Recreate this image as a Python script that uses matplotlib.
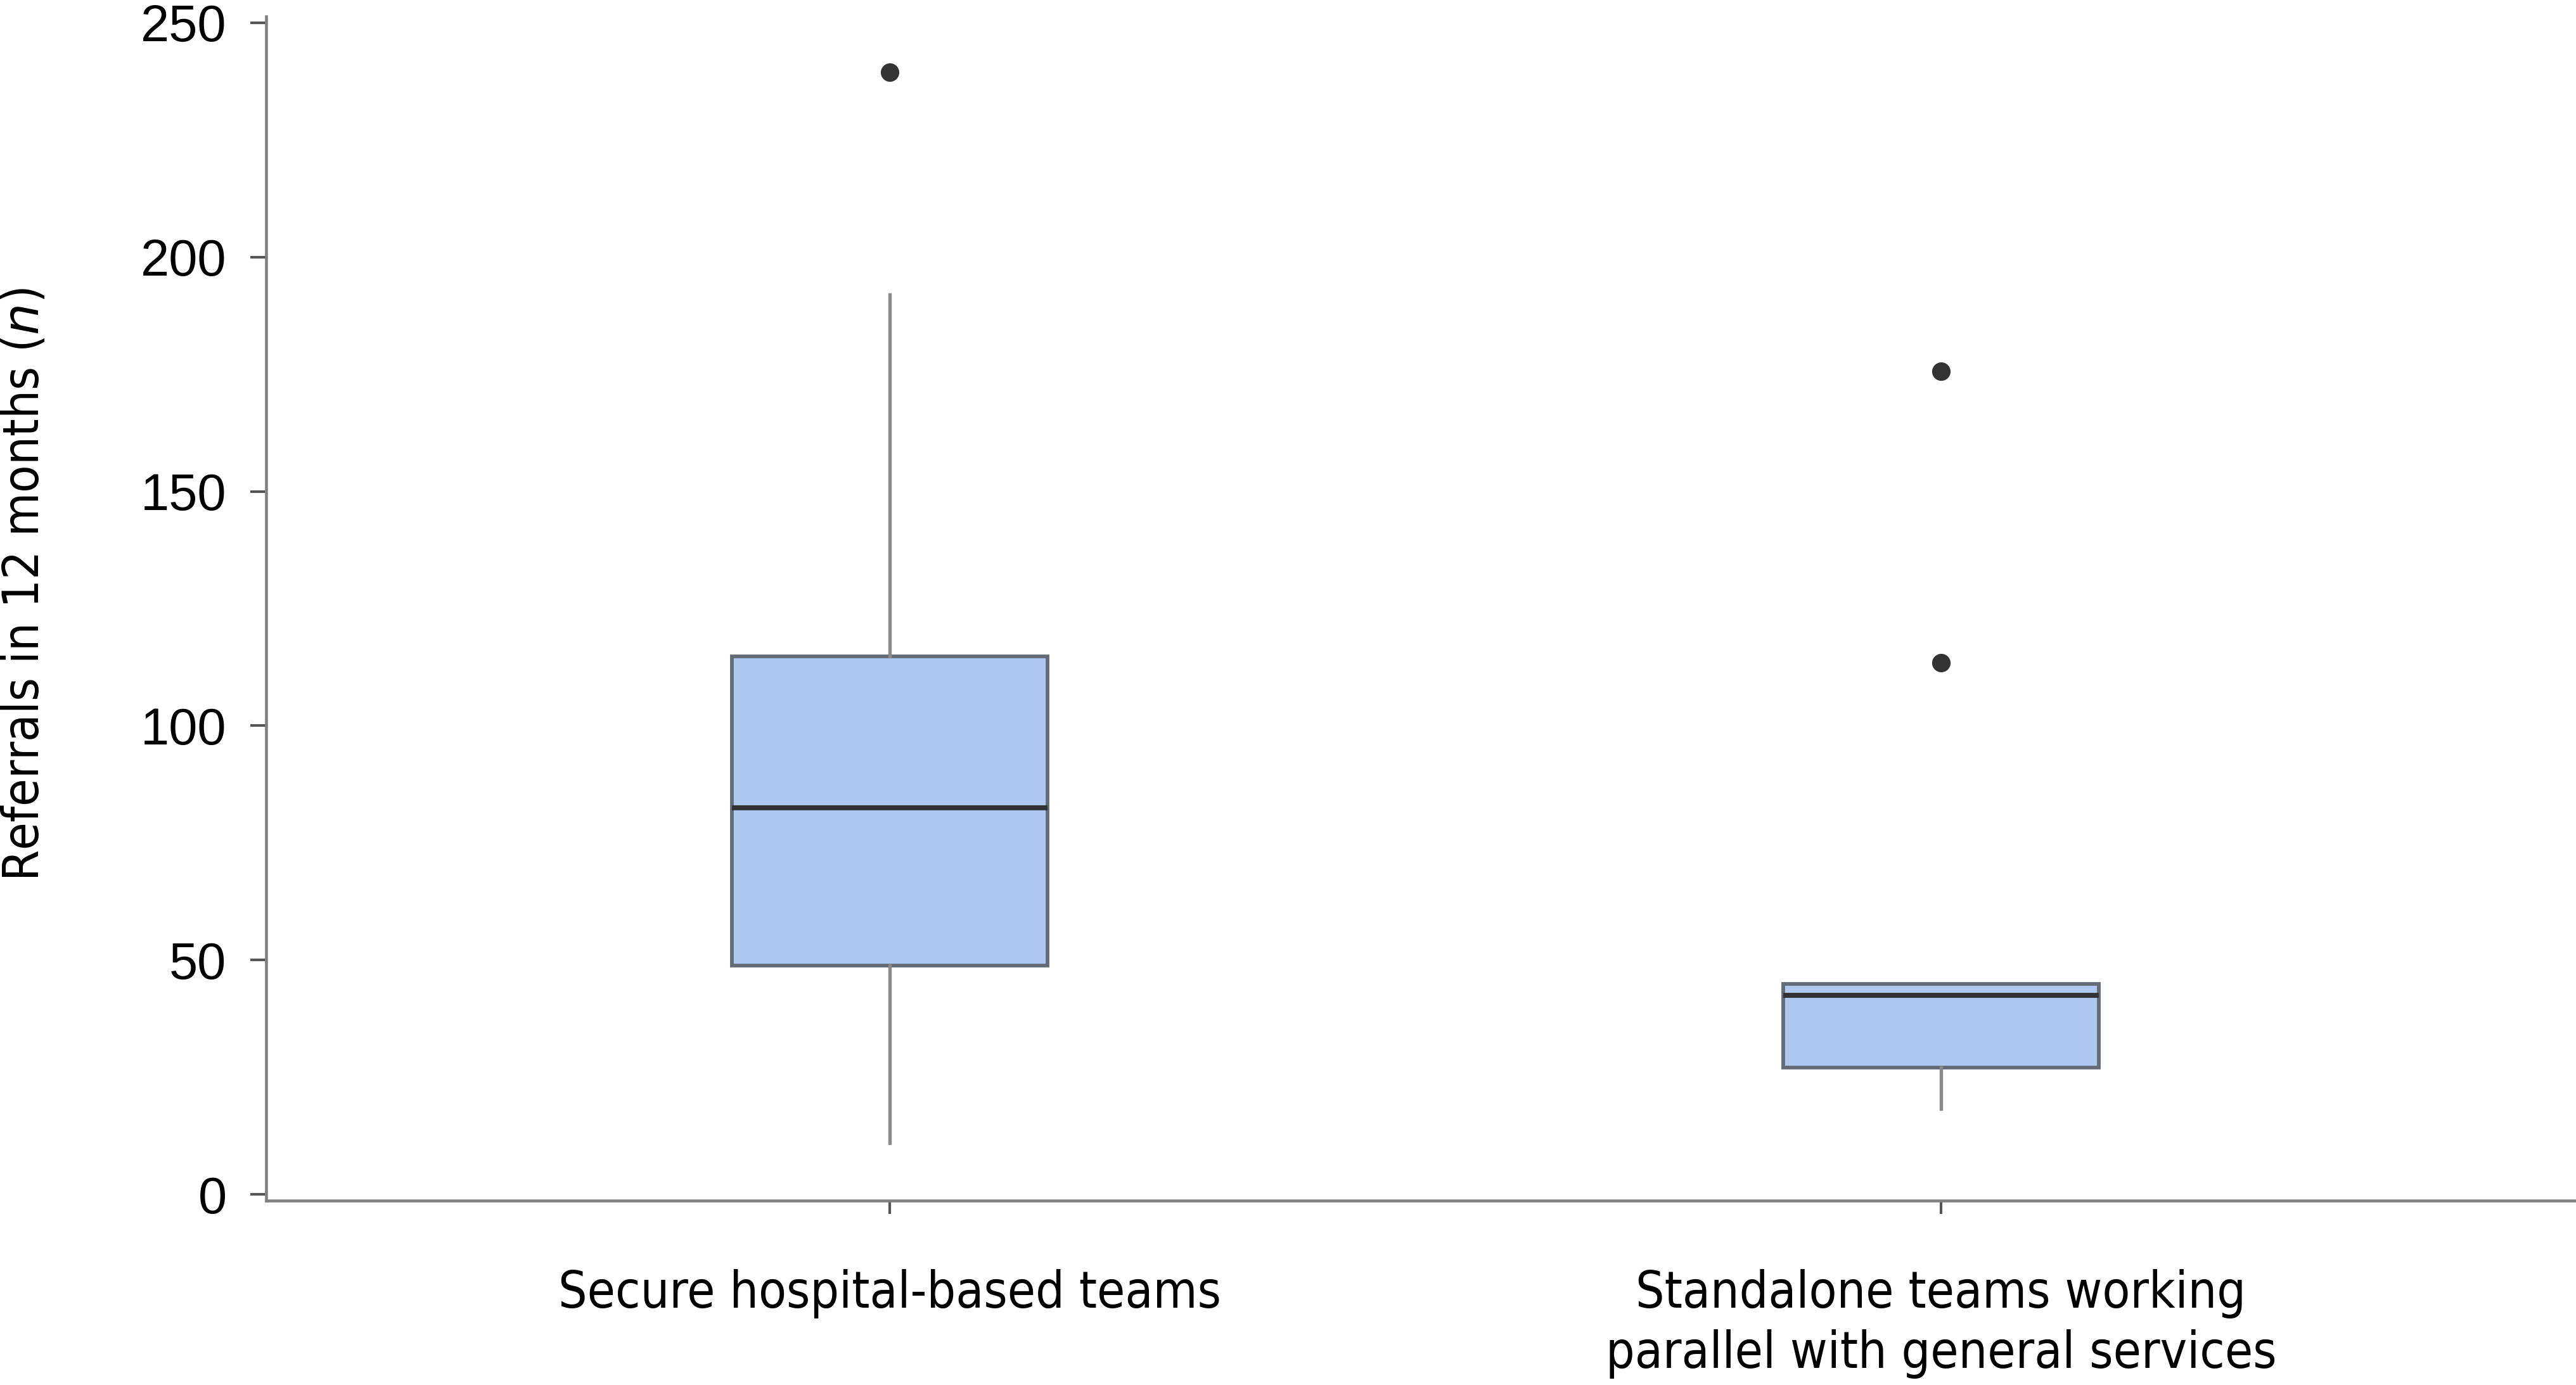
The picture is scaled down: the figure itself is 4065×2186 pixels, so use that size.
import matplotlib.pyplot as plt

# Values
groups = ['Secure hospital-based teams', 'Standalone teams working\nparallel with general services']
q1 = [48.8, 27.0]
median = [82.5, 42.5]
q3 = [114.8, 44.9]
whisker_low = [10.9, 18.3]
whisker_high = [192.0, 44.9]
outliers = [[239.5], [175.6, 113.4]]
yticks = [0, 50, 100, 150, 200, 250]

label_font = ['DejaVu Sans']
tick_font = ['Liberation Sans', 'DejaVu Sans']

fig = plt.figure(figsize=(4065 / 300, 2186 / 300), dpi=300)
ax = fig.add_axes([420 / 4065, 291 / 2186, 1 - 420 / 4065, (1895 - 26) / 2186])

stats = []
for i in range(len(groups)):
    stats.append({'q1': q1[i], 'med': median[i], 'q3': q3[i],
                  'whislo': whisker_low[i], 'whishi': whisker_high[i],
                  'fliers': outliers[i], 'label': groups[i]})

ax.bxp(stats, positions=[1, 2], widths=0.3, patch_artist=True, showcaps=False,
       boxprops=dict(facecolor='#aec8f0', edgecolor='#636b77', linewidth=1.4),
       medianprops=dict(color='#333333', linewidth=1.9, solid_capstyle='butt'),
       whiskerprops=dict(color='#8a8a8a', linewidth=1.3),
       flierprops=dict(marker='o', markersize=6, markerfacecolor='#333333',
                       markeredgecolor='#333333'))

ax.set_xlim(0.407, 2.604)
ax.set_ylim(-1.35, 251.35)
ax.set_yticks(yticks)

for side in ['top', 'right']:
    ax.spines[side].set_visible(False)
for side in ['left', 'bottom']:
    ax.spines[side].set_color('#808080')
    ax.spines[side].set_linewidth(1.1)

ax.tick_params(axis='y', direction='out', length=6, width=1.0, color='#555555', pad=9)
ax.tick_params(axis='x', direction='out', length=5, width=1.0, color='#555555', pad=21)
for lbl in ax.get_yticklabels():
    lbl.set_fontfamily(tick_font)
    lbl.set_fontsize(19.5)
for lbl in ax.get_xticklabels():
    lbl.set_fontfamily(label_font)
    lbl.set_fontstretch('condensed')
    lbl.set_fontsize(19.2)
    lbl.set_linespacing(1.27)

ax.set_ylabel('Referrals in 12 months ($\\it{n}$)', fontfamily=label_font,
              fontstretch='condensed', fontsize=19, va='center')
ax.yaxis.set_label_coords(-0.1045, 0.52)

fig.savefig('out.png', dpi=300, facecolor='white')
